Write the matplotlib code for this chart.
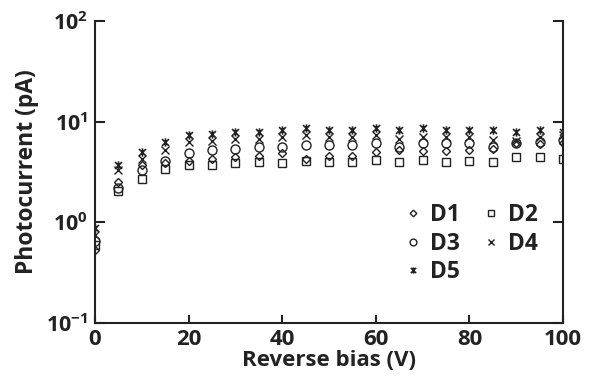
import matplotlib.pyplot as plt
from matplotlib.path import Path

plt.rcParams["font.family"] = ["Open Sans", "DejaVu Sans"]
plt.rcParams["font.weight"] = "bold"
plt.rcParams["mathtext.fontset"] = "custom"
plt.rcParams["mathtext.rm"] = "Open Sans:bold"
plt.rcParams["mathtext.bf"] = "Open Sans:bold"
plt.rcParams["mathtext.default"] = "bf"

bias = [0, 5, 10, 15, 20, 25, 30, 35, 40, 45, 50, 55, 60, 65, 70, 75, 80, 85, 90, 95, 100]

d1 = [0.53, 2.5, 3.7, 3.85, 4.1, 4.3, 4.45, 4.6, 4.85, 4.3, 4.6, 4.6, 5.0, 5.2, 5.1, 5.1, 5.2, 5.4, 6.1, 6.0, 6.1]
d2 = [0.6, 2.03, 2.7, 3.35, 3.7, 3.7, 3.85, 3.97, 3.9, 4.1, 4.0, 3.95, 4.2, 4.0, 4.2, 3.95, 4.1, 3.95, 4.45, 4.45, 4.3]
d3 = [0.65, 2.2, 3.3, 4.1, 4.85, 5.2, 5.4, 5.6, 5.6, 5.8, 5.8, 5.8, 6.1, 5.6, 6.1, 6.1, 6.1, 5.6, 6.2, 6.3, 6.6]
d4 = [0.75, 3.3, 4.3, 5.2, 6.3, 6.5, 6.8, 6.8, 7.0, 7.3, 7.0, 7.0, 7.3, 6.8, 7.0, 7.0, 7.0, 6.6, 6.4, 7.0, 7.3]
d5 = [0.88, 3.7, 5.0, 6.3, 7.3, 7.6, 7.9, 7.9, 8.2, 8.6, 8.2, 8.2, 8.6, 8.2, 8.6, 8.2, 8.2, 8.2, 7.9, 8.2, 7.9]

ytick_vals = [0.1, 1, 10, 100]
ytick_labels = ["$10^{-1}$", "$10^{0}$", "$10^{1}$", "$10^{2}$"]

# excel-style asterisk: an x with a vertical bar
star = Path(
    [(-1, -1), (1, 1), (-1, 1), (1, -1), (0, -1.2), (0, 1.2)],
    [Path.MOVETO, Path.LINETO, Path.MOVETO, Path.LINETO, Path.MOVETO, Path.LINETO],
)

ink = "#222222"
fig = plt.figure(figsize=(5.89, 3.80), dpi=100)
ax = fig.add_axes([0.1613, 0.15, 0.7946, 0.7947])

style = dict(linestyle="none", markerfacecolor="none", markeredgecolor=ink, color=ink)
h1, = ax.plot(bias, d1, marker="D", markersize=4.5, markeredgewidth=1.0, label="D1", **style)
h2, = ax.plot(bias, d2, marker="s", markersize=5.5, markeredgewidth=1.0, label="D2", **style)
h3, = ax.plot(bias, d3, marker="o", markersize=6.5, markeredgewidth=1.0, label="D3", **style)
h4, = ax.plot(bias, d4, marker="x", markersize=5.5, markeredgewidth=1.0, label="D4", **style)
h5, = ax.plot(bias, d5, marker=star, markersize=6, markeredgewidth=1.2, label="D5", **style)

ax.set_yscale("log")
ax.set_xlim(0, 100)
ax.set_ylim(0.1, 100)
ax.set_xticks([0, 20, 40, 60, 80, 100])
ax.set_yticks(ytick_vals)
ax.set_yticklabels(ytick_labels)
ax.minorticks_off()

ax.spines["top"].set_visible(False)
for side in ["left", "bottom", "right"]:
    ax.spines[side].set_linewidth(1.5)
    ax.spines[side].set_color(ink)
ax.tick_params(axis="both", direction="in", length=7, width=1.5,
               colors=ink, right=True)
ax.tick_params(axis="y", labelsize=15.5, pad=5)
ax.tick_params(axis="x", length=6, labelsize=16, pad=4)

ax.set_xlabel("Reverse bias (V)", fontsize=16, fontweight="bold", color=ink, labelpad=0)
ax.set_ylabel("Photocurrent (pA)", fontsize=16.5, fontweight="bold", color=ink, labelpad=5)

# row-wise order: D1 D2 / D3 D4 / D5
leg = ax.legend([h1, h3, h5, h2, h4], ["D1", "D3", "D5", "D2", "D4"], ncol=2,
                loc="lower right", bbox_to_anchor=(0.99, 0.06), frameon=False,
                prop={"size": 16.5, "weight": "bold"}, markerscale=0.75, handlelength=0.5,
                handletextpad=0.5, columnspacing=1.1, labelspacing=0.2)
for t in leg.get_texts():
    t.set_color(ink)

fig.savefig("out.png", dpi=100)
